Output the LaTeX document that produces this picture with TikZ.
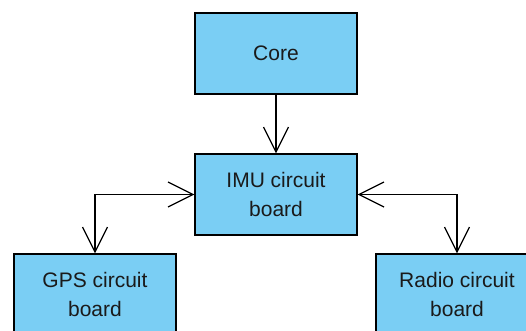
\documentclass[tikz,border=0pt]{standalone}
\usepackage{fontspec}
\setmainfont{Liberation Sans}
\usetikzlibrary{arrows.meta}
\definecolor{boxblue}{HTML}{7ACEF4}
\definecolor{txt}{HTML}{1A1A1A}
\tikzset{
  box/.style={draw=black, line width=1.3pt, fill=boxblue, minimum width=162pt, minimum height=81pt,
    inner sep=0pt, align=center, text=txt, font=\fontsize{21pt}{29pt}\selectfont},
  conn/.style={draw=black, line width=1.2pt},
  vtip/.tip={Straight Barb[length=25pt, width=25pt, line width=1.2pt]}
}
\begin{document}
\begin{tikzpicture}[x=1pt, y=-1pt]
\useasboundingbox (0,0) rectangle (526,331);
\clip (0,0) rectangle (526,331);
\node[box] (core) at (276,53.5) {Core};
\node[box] (imu) at (276,194.5) {IMU circuit\\board};
\node[box] (gps) at (95,294.5) {GPS circuit\\board};
\node[box] (radio) at (457,294.5) {Radio circuit\\board};
\draw[conn, -{vtip}] (core) -- (imu);
\draw[conn, {vtip}-{vtip}] (imu.west) -| (gps.north);
\draw[conn, {vtip}-{vtip}] (imu.east) -| (radio.north);
\end{tikzpicture}
\end{document}
